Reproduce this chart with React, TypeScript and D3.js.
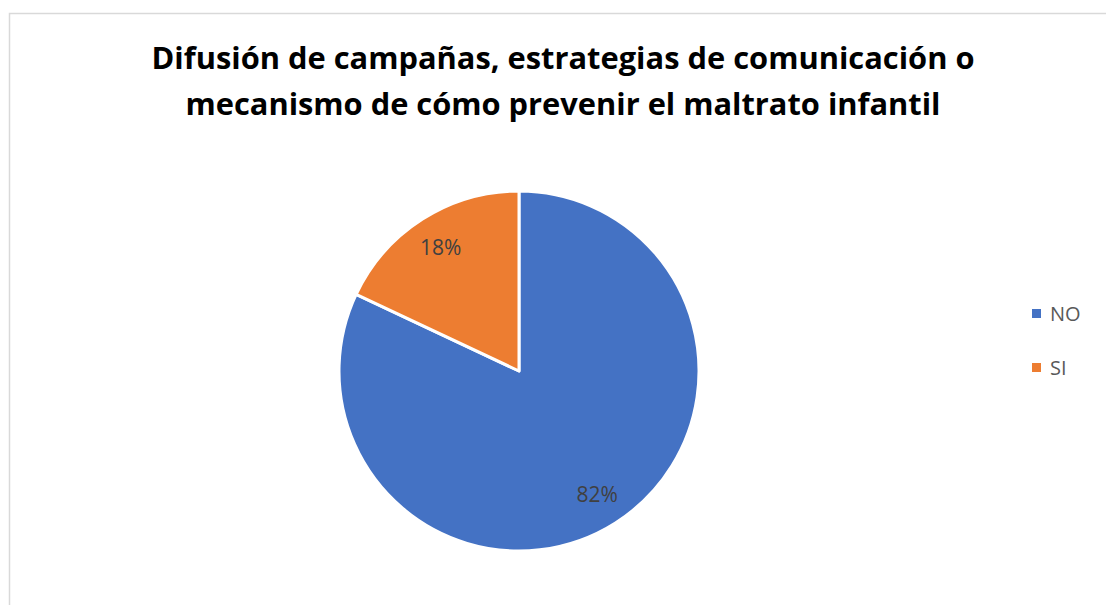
import React from "react";
import { pie, arc, scaleOrdinal } from "d3";

const categories = ["NO", "SI"];
const percents = [82, 18];
const sliceColors = ["#4472c4", "#ed7d31"];
const titleLines = [
  "Difusión de campañas, estrategias de comunicación o",
  "mecanismo de cómo prevenir el maltrato infantil",
];

type Slice = { name: string; value: number };

const App = () => {
  const width = 1106;
  const height = 605;
  const cx = 519;
  const cy = 371;
  const radius = 180;

  const data: Slice[] = categories.map((name, i) => ({ name, value: percents[i] }));

  const color = scaleOrdinal<string, string>().domain(categories).range(sliceColors);

  const pieGen = pie<Slice>()
    .value((d) => d.value)
    .sort(null)
    .startAngle(0)
    .endAngle(2 * Math.PI);

  const arcs = pieGen(data);
  const arcGen = arc<any>().innerRadius(0).outerRadius(radius);
  // labels sit a bit inside the rim, like Excel's "best fit"
  const labelArc = arc<any>().innerRadius(146).outerRadius(146);

  return (
    <svg
      width={width}
      height={height}
      style={{ position: "absolute", left: 0, top: 0, display: "block", background: "#fff" }}
    >
      <rect x={9.5} y={13.5} width={1200} height={700} fill="#fff" stroke="#d9d9d9" strokeWidth={1.5} />

      {titleLines.map((line, i) => (
        <text
          key={i}
          x={563}
          y={69 + i * 46}
          textAnchor="middle"
          fontFamily="'Open Sans', sans-serif"
          fontWeight="bold"
          fontSize={31}
          fill="#000"
          textLength={i === 0 ? 823 : 755}
          lengthAdjust="spacingAndGlyphs"
        >
          {line}
        </text>
      ))}

      <g transform={`translate(${cx},${cy})`}>
        {arcs.map((a) => (
          <path
            key={a.data.name}
            d={arcGen(a) as string}
            fill={color(a.data.name)}
            stroke="#fff"
            strokeWidth={3}
            strokeLinejoin="round"
          />
        ))}
        {arcs.map((a) => {
          const [lx, ly] = labelArc.centroid(a);
          return (
            <text
              key={"l" + a.data.name}
              x={lx}
              y={ly}
              dy="0.35em"
              textAnchor="middle"
              fontFamily="'Open Sans', sans-serif"
              fontSize={21}
              fill="#404040"
            >
              {a.data.value}%
            </text>
          );
        })}
      </g>

      <g fontFamily="'Open Sans', sans-serif" fontSize={20} fill="#595959">
        {categories.map((name, i) => (
          <g key={name} transform={`translate(1032,${309 + i * 54})`}>
            <rect width={9} height={9} fill={color(name)} />
            <text x={18} y={4.5} dy="0.36em">
              {name}
            </text>
          </g>
        ))}
      </g>
    </svg>
  );
};

export default App;
